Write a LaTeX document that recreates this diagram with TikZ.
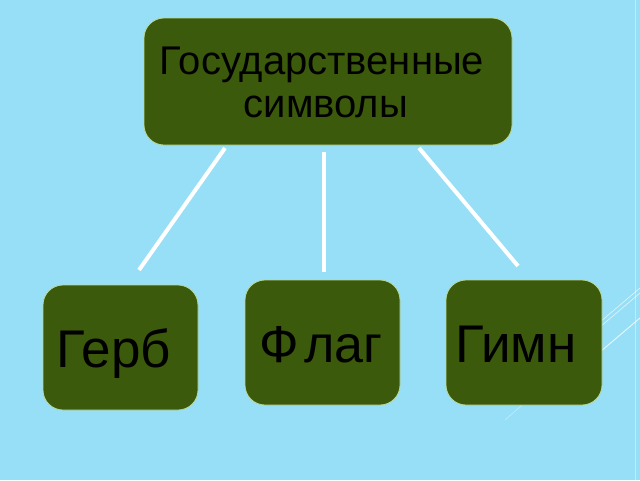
\documentclass[tikz,border=0pt]{standalone}
\usepackage{fontspec}
\setmainfont{Liberation Sans}
\definecolor{bg}{HTML}{97DFF6}
\definecolor{boxfill}{HTML}{3B5A0B}
\definecolor{boxline}{HTML}{B8D89A}
\begin{document}
\begin{tikzpicture}[x=1pt,y=-1pt,
  symbox/.style={draw=boxline, line width=0.8pt, fill=boxfill, rounded corners=20pt, inner sep=0pt},
  label/.style={text=black, inner sep=0pt, anchor=base},
  connector/.style={draw=white, line width=4pt},
  deco/.style={draw=white, line width=0.6pt, opacity=0.7}]
\fill[bg] (0,0) rectangle (640,480);
\useasboundingbox (0,0) rectangle (640,480);
% faint decorative lines on the right
\draw[deco, opacity=0.4] (635,0) -- (635,480);
\draw[deco] (600,322) -- (640,288);
\draw[deco] (600,327) -- (640,293);
\draw[deco, line width=1pt] (600,352) -- (640,318);
\draw[deco, opacity=0.4] (505,420) -- (530,398);
% boxes
\node[symbox, minimum width=368pt, minimum height=127pt] (top) at (328,81.5) {};
\node[symbox, minimum width=155pt, minimum height=125pt] (gerb) at (120.5,347.5) {};
\node[symbox, minimum width=155pt, minimum height=125pt] (flag) at (322.5,342.5) {};
\node[symbox, minimum width=156pt, minimum height=125pt] (gimn) at (524,342.5) {};
% texts
\node[label, font=\fontsize{40}{43}\selectfont] (toptxt1) at (322,74) {Государственные};
\node[label, font=\fontsize{40}{43}\selectfont] (toptxt2) at (326,117) {символы};
\node[label, font=\fontsize{53}{56}\selectfont] (gerbtxt) at (114,367) {Герб};
\node[label, font=\fontsize{52}{56}\selectfont] (flagtxt) at (321,362) {Ф\hspace{5pt}лаг};
\node[label, font=\fontsize{53}{56}\selectfont] (gimntxt) at (516,362) {Гимн};
% connectors (gaps at both ends as in the reference)
\coordinate (a1) at (225,148); \coordinate (a2) at (139,270);
\coordinate (b1) at (324,152); \coordinate (b2) at (324,272);
\coordinate (c1) at (419,148); \coordinate (c2) at (518,266);
\draw[connector] (a1) -- (a2);
\draw[connector] (b1) -- (b2);
\draw[connector] (c1) -- (c2);
\end{tikzpicture}
\end{document}
